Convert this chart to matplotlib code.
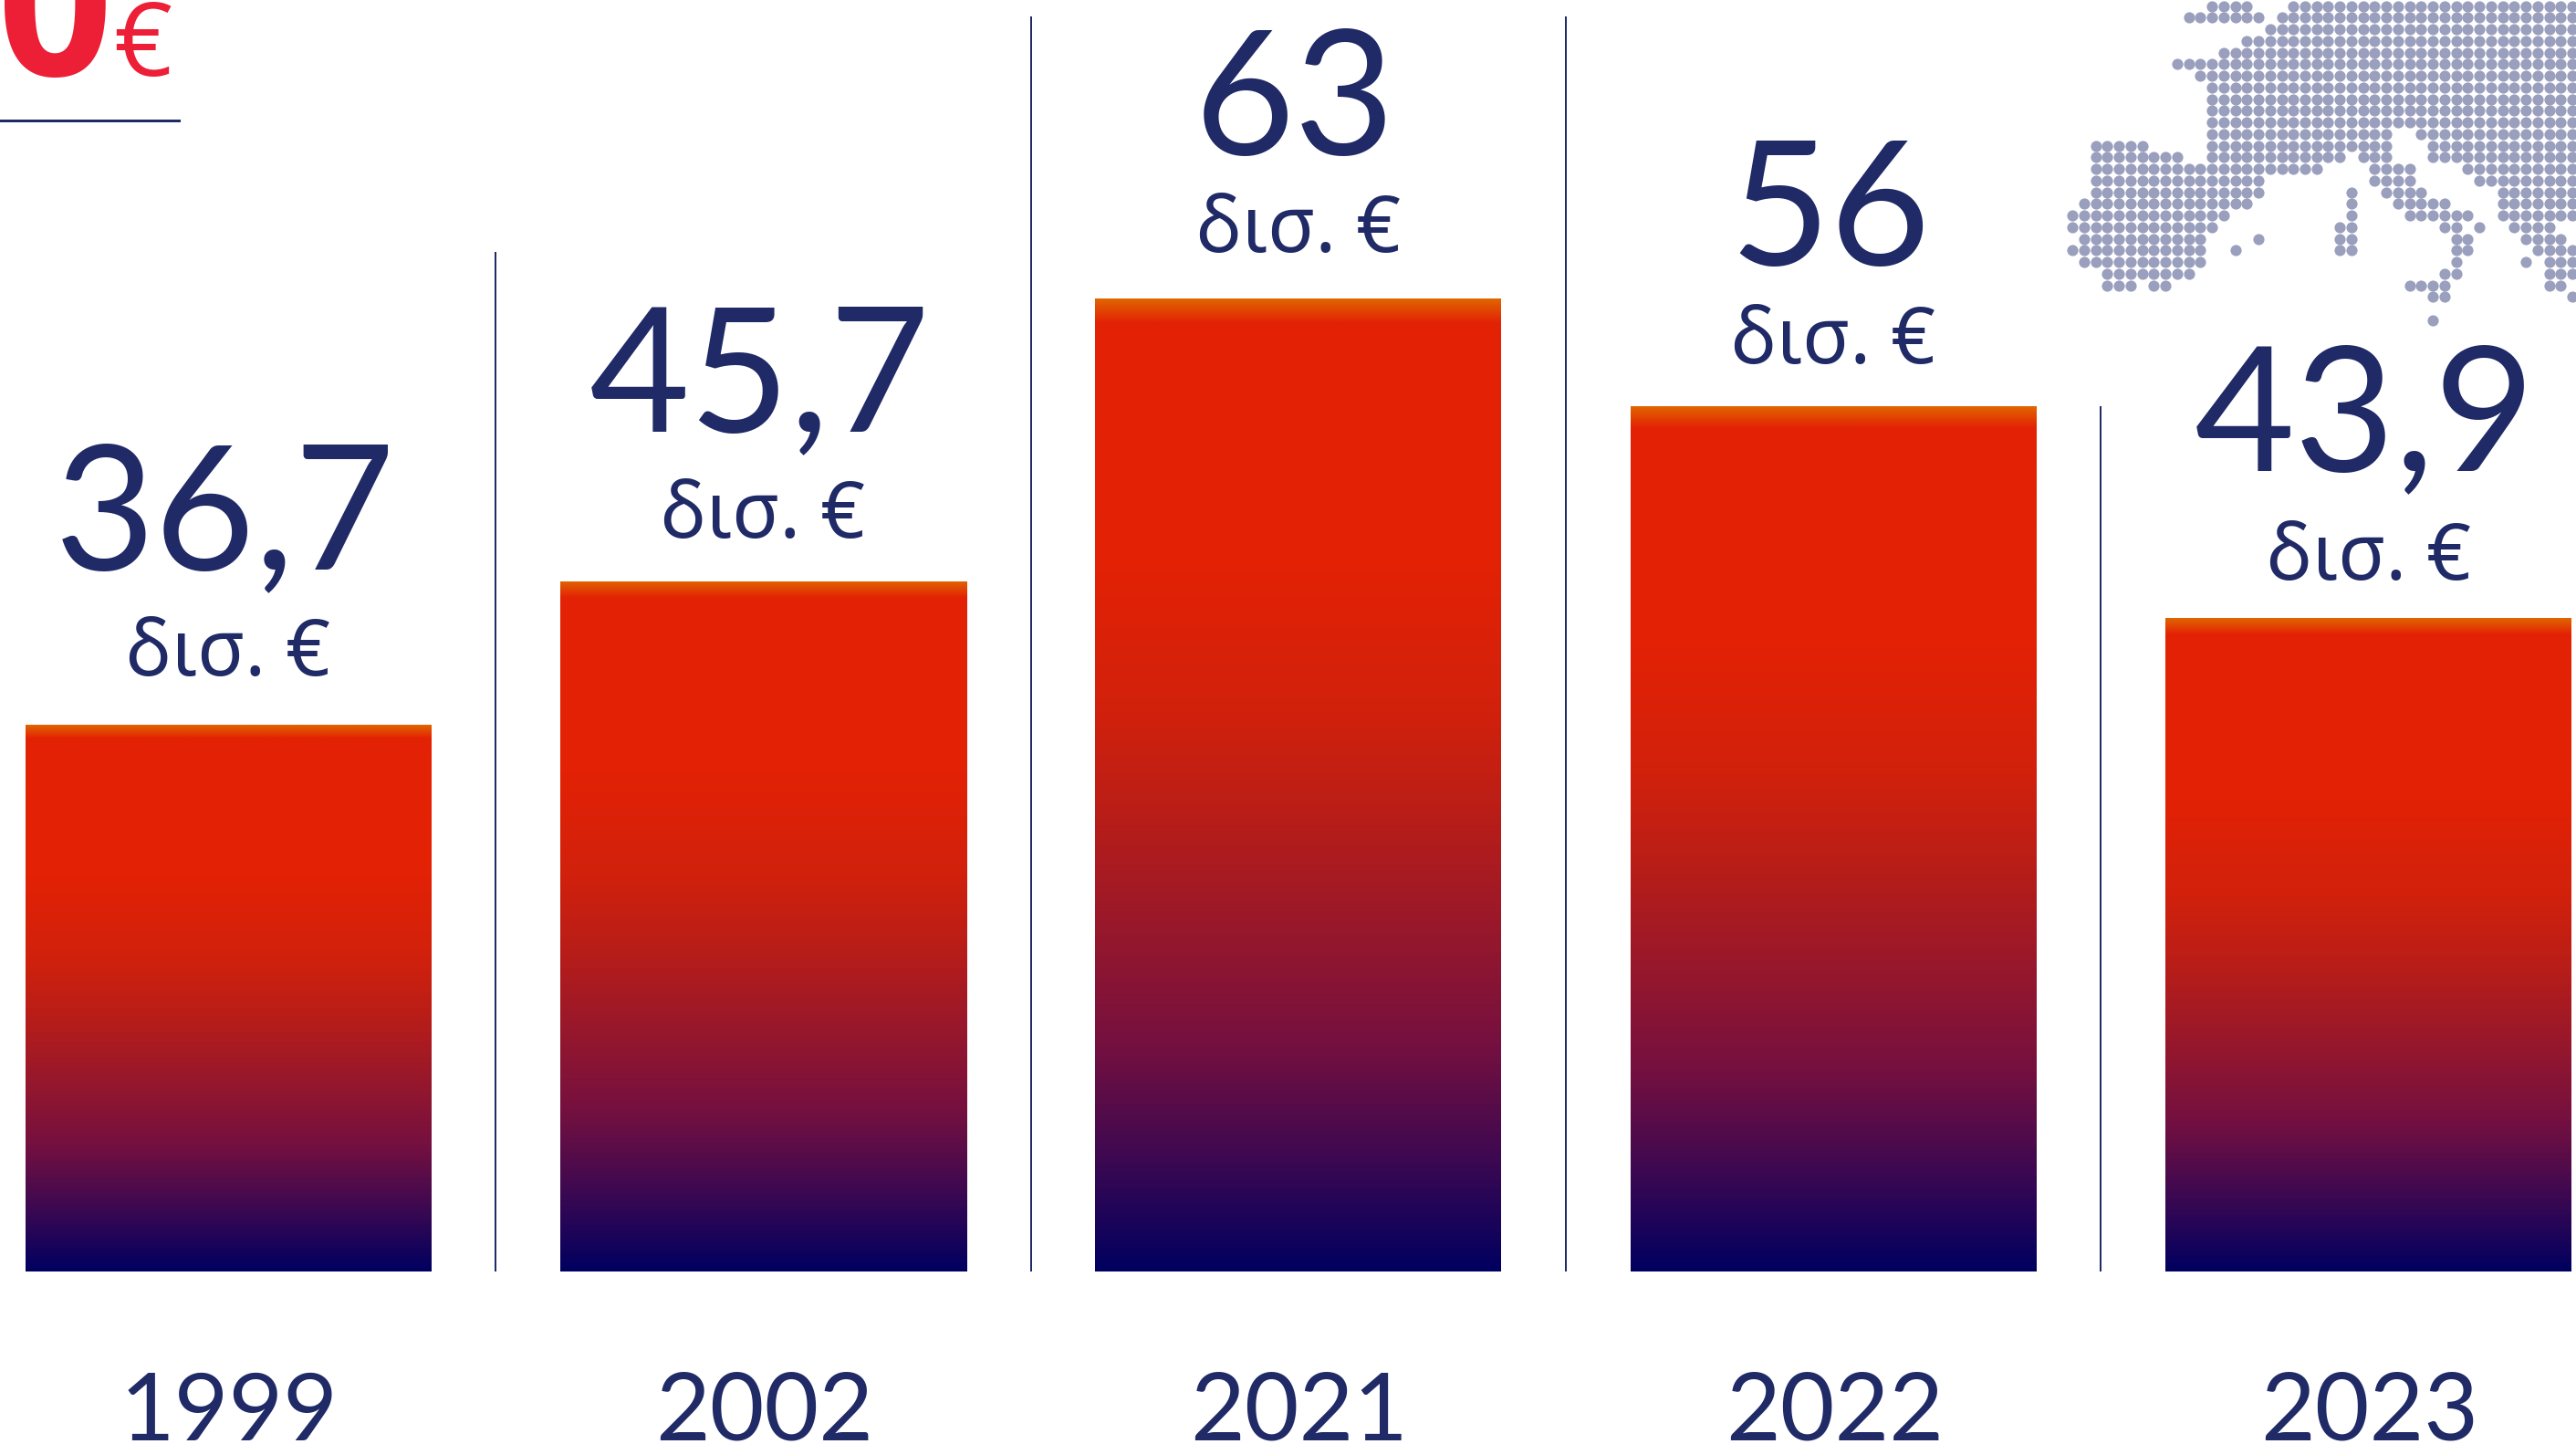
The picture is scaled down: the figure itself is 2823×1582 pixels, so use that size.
import numpy as np
import matplotlib
matplotlib.use("Agg")
import matplotlib.pyplot as plt
from matplotlib.colors import LinearSegmentedColormap

# ---- data ----
years = ["1999", "2002", "2021", "2022", "2023"]
value_labels = ["36,7", "45,7", "63", "56", "43,9"]
# drawn bar heights (the original is not strictly to scale)
bar_heights = [35.4, 44.7, 63.0, 56.0, 42.3]
unit_label = "δισ. €"
corner_digit = "0"
corner_unit = "€"

# dot map of Europe: row -> (first column, last column) spans
map_spans = {
    0: [(12, 15), (19, 43)], 1: [(10, 16), (18, 43)], 2: [(17, 43)], 3: [(15, 43)],
    4: [(13, 43)], 5: [(9, 43)], 6: [(11, 43)], 7: [(12, 43)], 8: [(12, 43)],
    9: [(12, 43)], 10: [(12, 43)], 11: [(12, 27), (30, 43)],
    12: [(2, 6), (12, 27), (31, 43)], 13: [(2, 9), (12, 23), (25, 27), (31, 43)],
    14: [(2, 21), (26, 29), (34, 43)], 15: [(2, 16), (26, 29), (35, 43)],
    16: [(2, 16), (24, 24), (27, 30), (37, 43)], 17: [(1, 15), (24, 24), (28, 32), (37, 43)],
    18: [(0, 13), (24, 24), (29, 34), (37, 43)],
    19: [(0, 12), (23, 24), (32, 33), (35, 35), (38, 41)],
    20: [(1, 11), (16, 16), (23, 24), (33, 34), (39, 42)],
    21: [(0, 11), (14, 14), (23, 24), (33, 34), (40, 43)],
    22: [(1, 11), (33, 33), (39, 39), (41, 43)], 23: [(3, 10), (32, 33), (41, 43)],
    24: [(3, 5), (7, 8), (29, 32), (41, 42)], 25: [(31, 32), (43, 43)], 27: [(31, 31)],
}

# ---- style / layout ----
W, H = 2823, 1582
NAVY = "#1F2A66"
RED = "#ED1F37"
DOT = "#9A9FBE"
PX_PER_UNIT = 16.92
BASE_PX = 1393
C0_PX, PITCH_PX = 250, 586.4
BAR_W = 445 / 586.4
num_offset_px = [171, 164, 158, 155, 162]
unit_offset_px = [54, 48, 51, 47, 42]
sep_tops_px = [276, 18, 18, 445]
px2pt = 72 / 100

grad = LinearSegmentedColormap.from_list("bar", [
    (0.0, "#E06400"), (0.024, "#E32205"), (0.27, "#E32205"), (0.42, "#D2210C"),
    (0.52, "#BC1E16"), (0.64, "#9A182A"), (0.77, "#741040"), (0.89, "#3A0852"),
    (1.0, "#000060")], N=512)

plt.rcParams["font.family"] = ["Lato", "Noto Sans", "DejaVu Sans"]
fig = plt.figure(figsize=(W / 100, H / 100), dpi=100, facecolor="white")
ax = fig.add_axes([0, 0, 1, 1])
ax.axis("off")

x = np.arange(len(years))
bars = ax.bar(x, bar_heights, width=BAR_W, color="none", linewidth=0)
g = np.linspace(0, 1, 512).reshape(-1, 1)
for b in bars:
    im = ax.imshow(g, cmap=grad, aspect="auto", interpolation="bilinear",
                   extent=(b.get_x(), b.get_x() + b.get_width(), 0, b.get_height()),
                   origin="upper", zorder=2)
    im.set_clip_path(b)
ax.set_xlim(-C0_PX / PITCH_PX, (W - C0_PX) / PITCH_PX)
ax.set_ylim((BASE_PX - H) / PX_PER_UNIT, BASE_PX / PX_PER_UNIT)

# separators
for i, top in enumerate(sep_tops_px):
    ax.vlines(i + 0.5, 0, (BASE_PX - top) / PX_PER_UNIT, color=NAVY, lw=2 * px2pt)

for i in range(len(years)):
    h = bar_heights[i]
    ax.text(i - 0.006, h + num_offset_px[i] / PX_PER_UNIT, value_labels[i], ha="center",
            va="baseline", color=NAVY, fontsize=190 * px2pt, family=["Lato", "Noto Sans"])
    ax.text(i, h + unit_offset_px[i] / PX_PER_UNIT, unit_label, ha="center", va="baseline",
            color=NAVY, fontsize=85 * px2pt, family=["Noto Sans", "DejaVu Sans"])
    ax.text(i + 0.002, (BASE_PX - 1578) / PX_PER_UNIT, years[i], ha="center", va="baseline",
            color=NAVY, fontsize=103 * px2pt, family=["Lato", "Noto Sans"])

# corner fragment
fig.text(60 / W, 1 - 83 / H, corner_digit, ha="center", va="baseline", color=RED,
         fontsize=222 * px2pt, fontweight="bold", family=["Open Sans", "DejaVu Sans"])
fig.text(124 / W, 1 - 83 / H, corner_unit, ha="left", va="baseline", color=RED,
         fontsize=112 * px2pt, family=["Open Sans", "DejaVu Sans"])
fig.add_artist(plt.Line2D([0, 196 / W], [1 - 131.5 / H] * 2, color=NAVY, lw=3 * px2pt))

# dot map
m = fig.add_axes([0, 0, 1, 1], facecolor="none")
P = 12.745
m.set_xlim(-2271.1 / P, (W - 2271.1) / P)
m.set_ylim((H - 6.7) / P, -6.7 / P)
m.axis("off")
cols, rows = [], []
for r, spans in map_spans.items():
    for a, b in spans:
        for c in range(a, b + 1):
            cols.append(c)
            rows.append(r)
m.scatter(cols, rows, s=(12.2 * px2pt) ** 2, color=DOT, linewidths=0, clip_on=True)

fig.savefig("out.png", dpi=100, facecolor="white")
